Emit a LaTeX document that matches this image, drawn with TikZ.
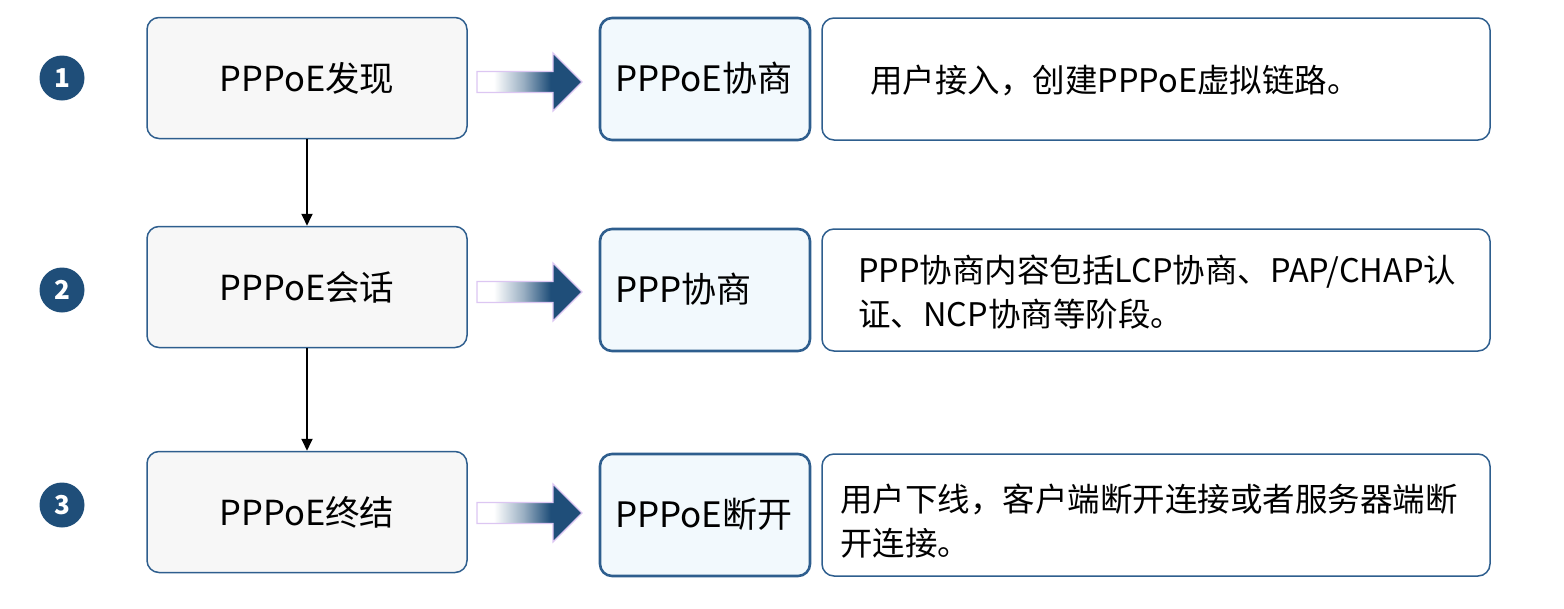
\documentclass[tikz,border=0pt]{standalone}
\usepackage{fontspec}
\setmainfont{Noto Sans CJK SC}
\usetikzlibrary{positioning,arrows.meta}

\definecolor{boxblue}{HTML}{2E5E8E}
\definecolor{darkblue}{HTML}{1F4E79}
\definecolor{stagegray}{HTML}{F7F7F7}
\definecolor{negfill}{HTML}{F2F9FD}
\definecolor{lavender}{HTML}{DCC6F2}

\pgfdeclarehorizontalshading{arrowfade}{100bp}{color(0bp)=(white); color(33bp)=(white);
  color(47bp)=(darkblue!45!white); color(60bp)=(darkblue); color(100bp)=(darkblue)}

\tikzset{
  stagebox/.style={draw=boxblue, line width=1.5pt, rounded corners=12pt, fill=stagegray,
    minimum width=320pt, minimum height=121pt, font=\fontsize{34.5}{40}\selectfont},
  negbox/.style={draw=boxblue, line width=2.6pt, rounded corners=12pt, fill=negfill,
    minimum width=210pt, minimum height=122pt},
  notebox/.style={draw=boxblue, line width=1.5pt, rounded corners=12pt, fill=white,
    minimum width=668pt, minimum height=122pt},
  numdisc/.style={circle, fill=darkblue, minimum size=45pt, inner sep=0pt,
    text=white, font=\fontsize{26}{26}\selectfont\bfseries},
  txt/.style={inner sep=0pt, anchor=west, align=left, font=\fontsize{32.5}{44}\selectfont},
  negtxt/.style={txt, font=\fontsize{35}{40}\selectfont},
  flow/.style={-{Triangle[length=12pt,width=11pt]}, line width=1.8pt},
  blockarrow/.style={shading=arrowfade, draw=lavender, line width=1.2pt}
}

\begin{document}
\begin{tikzpicture}[x=1pt,y=-1pt]
\useasboundingbox (0,0) rectangle (1564,608);

% Numbers
\node[numdisc] (n1) at (62,78) {1};
\node[numdisc] (n2) at (62,290) {2};
\node[numdisc] (n3) at (62,505) {3};

% Stages
\node[stagebox] (disc) at (307,78) {PPPoE发现};
\node[stagebox] (sess) at (307,287) {PPPoE会话};
\node[stagebox] (term) at (307,512) {PPPoE终结};

% Negotiation boxes
\node[negbox] (neg1) at (705,79) {};
\node[negbox] (neg2) at (705,290) {};
\node[negbox] (neg3) at (705,515) {};
\node[negtxt] (neg1t) at (615,78) {PPPoE协商};
\node[negtxt] (neg2t) at (615,289) {PPP协商};
\node[negtxt] (neg3t) at (615,514) {PPPoE断开};

% Notes
\node[notebox] (note1) at (1156,79) {};
\node[notebox] (note2) at (1156,290) {};
\node[notebox] (note3) at (1156,515) {};
\node[txt] (note1t) at (870,81) {用户接入，创建PPPoE虚拟链路。};
\node[txt] (note2t) at (858,292) {PPP协商内容包括LCP协商、PAP/CHAP认\\证、NCP协商等阶段。};
\node[txt] (note3t) at (840,521) {用户下线，客户端断开连接或者服务器端断\\开连接。};

% Flow
\draw[flow] (disc) -- (sess);
\draw[flow] (sess) -- (term);

% Block arrows
\foreach \y in {82,292,513}
  \shade[blockarrow] (477,\y-10.5) -- (553,\y-10.5) -- (553,\y-29) -- (582,\y)
    -- (553,\y+29) -- (553,\y+10.5) -- (477,\y+10.5) -- cycle;

\end{tikzpicture}
\end{document}
